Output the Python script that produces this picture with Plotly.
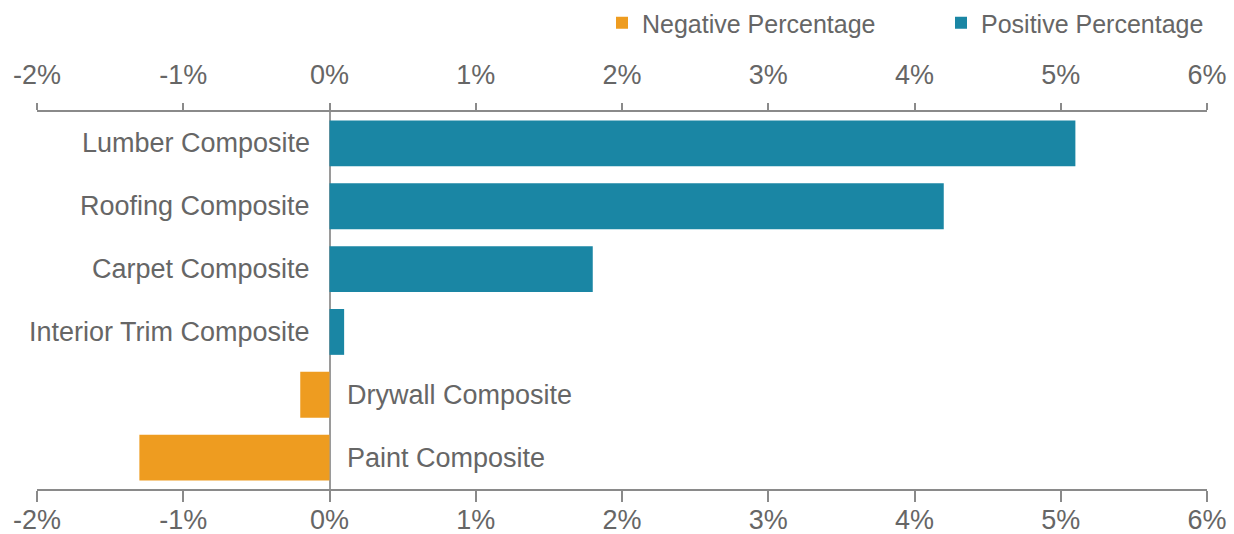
import plotly.graph_objects as go

categories = ["Lumber Composite", "Roofing Composite", "Carpet Composite",
              "Interior Trim Composite", "Drywall Composite", "Paint Composite"]
values = [5.1, 4.2, 1.8, 0.1, -0.2, -1.3]
tick_values = [-2, -1, 0, 1, 2, 3, 4, 5, 6]
tick_labels = ["-2%", "-1%", "0%", "1%", "2%", "3%", "4%", "5%", "6%"]

TEXT = "#666666"
FONT = "Liberation Sans, Arial, sans-serif"
BLUE = "#1a86a4"
ORANGE = "#ee9c20"

neg_cats = [c for c, v in zip(categories, values) if v < 0]
neg_vals = [v for v in values if v < 0]
pos_cats = [c for c, v in zip(categories, values) if v >= 0]
pos_vals = [v for v in values if v >= 0]

fig = go.Figure()
fig.add_trace(go.Bar(y=neg_cats, x=neg_vals, orientation="h", name="Negative Percentage",
                     marker=dict(color=ORANGE, line=dict(width=0)), hoverinfo="x+y",
                     legend="legend"))
fig.add_trace(go.Bar(y=pos_cats, x=pos_vals, orientation="h", name="Positive Percentage",
                     marker=dict(color=BLUE, line=dict(width=0)), hoverinfo="x+y",
                     legend="legend2"))
# invisible trace to activate top axis
fig.add_trace(go.Scatter(x=[tick_values[0], tick_values[-1]], y=[categories[0], categories[0]],
                         xaxis="x2", mode="markers", marker=dict(opacity=0),
                         showlegend=False, hoverinfo="skip"))

for c, v in zip(categories, values):
    fig.add_annotation(x=0, y=c, text=c, showarrow=False,
                       xanchor="right" if v >= 0 else "left",
                       xshift=-18 if v >= 0 else 15,
                       font=dict(family=FONT, size=27, color=TEXT))

axis_common = dict(range=[tick_values[0], tick_values[-1]], tickvals=tick_values, ticktext=tick_labels,
                   showgrid=False, showline=True, linecolor="#8a8a8a", linewidth=2,
                   ticks="outside", tickcolor="#8a8a8a", tickwidth=2, automargin=False,
                   tickfont=dict(family=FONT, size=27, color=TEXT), fixedrange=True)

legend_common = dict(orientation="h", xref="container", yref="container", xanchor="left",
                     y=1, yanchor="top", font=dict(family=FONT, size=25, color=TEXT),
                     bgcolor="rgba(0,0,0,0)")

fig.update_layout(
    width=1234, height=534,
    margin=dict(l=37, r=27, t=112, b=45, autoexpand=False),
    paper_bgcolor="white", plot_bgcolor="white",
    barmode="relative", bargap=0.27,
    xaxis=dict(**axis_common, side="bottom", ticklen=11, ticklabelstandoff=-5, zeroline=True,
               zerolinecolor="#9a9a9a", zerolinewidth=1.5),
    xaxis2=dict(**axis_common, side="top", overlaying="x", matches="x", ticklen=7,
                ticklabelstandoff=8, zeroline=False),
    yaxis=dict(categoryorder="array", categoryarray=categories, autorange="reversed",
               showticklabels=False, showgrid=False, showline=False, ticks="", zeroline=False,
               automargin=False),
    showlegend=True,
    legend=dict(**legend_common, x=602 / 1234),
    legend2=dict(**legend_common, x=941 / 1234),
)

fig.write_html("out.html", config={"displayModeBar": False},
               post_script="document.body.style.margin='0';document.body.style.overflow='hidden';")
